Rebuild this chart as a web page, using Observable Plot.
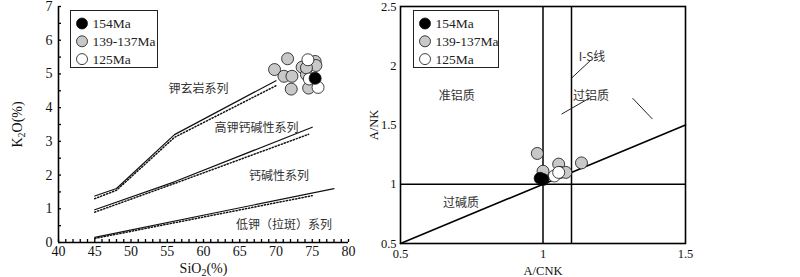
<!DOCTYPE html>
<html><head><meta charset="utf-8">
<script src="https://cdn.jsdelivr.net/npm/d3@7"></script>
<script src="https://cdn.jsdelivr.net/npm/@observablehq/plot@0.6"></script>
<style>
body{margin:0;background:#fff;}
#wrap{display:flex;width:800px;height:277px;overflow:hidden;}
.panel{position:relative;}
.legend{position:absolute;border:1px solid #222;background:#fff;}
</style></head>
<body><div id="wrap"><div class="panel" id="p1"></div><div class="panel" id="p2"></div></div>
<script>
// ---- groups / legend
const groups = ["154Ma", "139-137Ma", "125Ma"];
const groupFill = ["#000000", "#c8c8c8", "#ffffff"];
const drawOrder = ["139-137Ma", "125Ma", "154Ma"];

// ---- left panel: SiO2 vs K2O
const sio2Group = ["139-137Ma","139-137Ma","139-137Ma","139-137Ma","139-137Ma","139-137Ma","139-137Ma","139-137Ma","139-137Ma","139-137Ma","139-137Ma","125Ma","125Ma","125Ma","154Ma"];
const sio2 = [69.8, 71.6, 71.1, 72.2, 72.1, 73.6, 74.2, 75.4, 75.5, 74.5, 74.2, 74.4, 75.8, 74.6, 75.4];
const k2o  = [5.13, 5.45, 4.93, 4.93, 4.55, 5.20, 4.98, 5.37, 5.25, 4.58, 5.18, 5.42, 4.60, 4.85, 4.87];

const boundaryName = ["sho", "hkca", "ca"];
const solidX = [[45, 48, 56, 70], [45, 56, 75], [45, 78]];
const solidY = [[1.38, 1.60, 3.20, 4.80], [0.97, 1.80, 3.42], [0.15, 1.60]];
const dottedX = [[45, 48, 56, 70], [45, 56, 74.5], [45, 75]];
const dottedY = [[1.30, 1.55, 3.12, 4.65], [0.90, 1.75, 3.21], [0.12, 1.39]];

const seriesText = ["钾玄岩系列", "高钾钙碱性系列", "钙碱性系列", "低钾（拉斑）系列"];
const seriesX = [59.3, 67.3, 70.4, 71.1];
const seriesY = [4.55, 3.40, 1.98, 0.50];

const xTicksL = [40, 45, 50, 55, 60, 65, 70, 75, 80];
const yTicksL = [0, 1, 2, 3, 4, 5, 6, 7];

// ---- right panel: A/CNK vs A/NK
const acnkGroup = ["139-137Ma","139-137Ma","139-137Ma","139-137Ma","139-137Ma","139-137Ma","125Ma","125Ma","154Ma","154Ma"];
const acnk = [0.98, 1.00, 1.055, 1.06, 1.08, 1.135, 1.04, 1.055, 0.99, 1.00];
const ank  = [1.26, 1.11, 1.17, 1.10, 1.10, 1.18, 1.07, 1.10, 1.05, 1.04];

const vLines = [1.0, 1.1];
const hLines = [1.0];
const diagX = [0.5, 1.5];
const diagY = [0.5, 1.5];
const leaderX1 = [1.167, 1.163, 1.314];
const leaderY1 = [2.046, 1.727, 1.727];
const leaderX2 = [1.10, 1.065, 1.384];
const leaderY2 = [1.895, 1.592, 1.550];
const fieldText = ["I-S线", "过铝质", "准铝质", "过碱质"];
const fieldX = [1.172, 1.168, 0.697, 0.712];
const fieldY = [2.07, 1.74, 1.745, 0.84];
const fieldAnchor = ["start", "start", "middle", "middle"];

const xTicksR = [0.5, 1, 1.5];
const yTicksR = [0.5, 1, 1.5, 2, 2.5];

const fillOf = g => groupFill[groups.indexOf(g)];
const serif = "'Liberation Serif', 'Times New Roman', serif";
const cjk = "'Noto Sans CJK SC', sans-serif";

function toRows(xs, ys, gs) {
  const rows = xs.map((x, i) => ({x, y: ys[i], g: gs[i]}));
  return drawOrder.flatMap(g => rows.filter(r => r.g === g));
}
function linesRows(X, Y) {
  return X.flatMap((xs, k) => xs.map((x, i) => ({x, y: Y[k][i], id: boundaryName[k]})));
}

const leftPts = toRows(sio2, k2o, sio2Group);
const leftPlot = Plot.plot({
  width: 360, height: 277,
  marginLeft: 58, marginRight: 12, marginTop: 6, marginBottom: 35,
  x: {domain: [40, 80]}, y: {domain: [0, 7]},
  style: {fontFamily: serif, fontSize: "14px", color: "#000", background: "#fff"},
  marks: [
    Plot.axisY(yTicksL, {tickSize: 0, tickPadding: 6, fontSize: 14, fill: "#111", label: "K2O(%)", labelAnchor: "center", labelArrow: false, labelOffset: 46}),
    Plot.axisY(d3.range(0, 7.01, 0.5), {tickSize: -3, tickFormat: () => "", label: null, strokeWidth: 1.3}),
    Plot.axisX(xTicksL, {tickSize: 0, tickPadding: 4, fontSize: 14, fill: "#111", label: "SiO2(%)", labelAnchor: "center", labelArrow: false, labelOffset: 30}),
    Plot.axisX(d3.range(40, 80.01, 1), {tickSize: -3, tickFormat: () => "", label: null, strokeWidth: 1.3}),
    Plot.ruleX([40], {strokeWidth: 1.6}),
    Plot.ruleY([0], {strokeWidth: 1.6}),
    Plot.line(linesRows(solidX, solidY), {x: "x", y: "y", z: "id", stroke: "#111", strokeWidth: 1.2}),
    Plot.line(linesRows(dottedX, dottedY), {x: "x", y: "y", z: "id", stroke: "#111", strokeWidth: 1.5, strokeDasharray: "1.2,2"}),
    Plot.text(seriesText, {x: (d, i) => seriesX[i], y: (d, i) => seriesY[i], text: d => d, fontFamily: cjk, fontSize: 12, fill: "#333", style: "letter-spacing:2px"}),
    Plot.dot(leftPts, {x: "x", y: "y", r: 6, fill: d => fillOf(d.g), stroke: "#111", strokeWidth: 0.8})
  ]
});

const rightPt = toRows(acnk, ank, acnkGroup);
const rightPlot = Plot.plot({
  width: 340, height: 277,
  marginLeft: 40, marginRight: 15, marginTop: 6, marginBottom: 34,
  x: {domain: [0.5, 1.5]}, y: {domain: [0.5, 2.5]},
  style: {fontFamily: serif, fontSize: "13px", color: "#000", background: "#fff"},
  marks: [
    Plot.axisY(yTicksR, {tickSize: 0, tickPadding: 4, fontSize: 12.5, fill: "#111", tickFormat: d3.format("~g"), label: "A/NK", labelAnchor: "center", labelArrow: false, labelOffset: 31}),
    Plot.axisX(xTicksR, {tickSize: 0, tickPadding: 6, fontSize: 12.5, fill: "#111", tickFormat: d3.format("~g"), label: "A/CNK", labelAnchor: "center", labelArrow: false, labelOffset: 31}),
    Plot.ruleX(vLines, {strokeWidth: 1.5}),
    Plot.ruleY(hLines, {strokeWidth: 1.5}),
    Plot.line(diagX.map((x, i) => ({x, y: diagY[i]})), {x: "x", y: "y", strokeWidth: 1.6}),
    Plot.link(leaderX1, {x1: (d, i) => leaderX1[i], y1: (d, i) => leaderY1[i], x2: (d, i) => leaderX2[i], y2: (d, i) => leaderY2[i], stroke: "#222", strokeWidth: 1}),
    Plot.text(fieldText, {x: (d, i) => fieldX[i], y: (d, i) => fieldY[i], text: d => d, textAnchor: (d, i) => fieldAnchor[i], fontFamily: cjk, fontSize: 12, fill: "#333", style: "letter-spacing:1px"}),
    Plot.frame({strokeWidth: 1.6}),
    Plot.dot(rightPt, {x: "x", y: "y", r: 6, fill: d => fillOf(d.g), stroke: "#111", strokeWidth: 0.8})
  ]
});

// subscripts in axis labels
d3.select(leftPlot).select('g[aria-label="y-axis label"] text').html('K<tspan dy="3" font-size="10">2</tspan><tspan dy="-3">O(%)</tspan>');
d3.select(leftPlot).select('g[aria-label="x-axis label"] text').html('SiO<tspan dy="3" font-size="10">2</tspan><tspan dy="-3">(%)</tspan>');

document.getElementById("p1").appendChild(leftPlot);
document.getElementById("p2").appendChild(rightPlot);

function legend(panel, left, top, w, h) {
  const div = d3.select(panel).append("div").attr("class", "legend")
    .style("left", left + "px").style("top", top + "px").style("width", w + "px").style("height", h + "px");
  const svg = div.append("svg").attr("width", w).attr("height", h).style("display", "block");
  const g = svg.selectAll("g").data(groups).join("g").attr("transform", (d, i) => `translate(11,${12.5 + i * 17.8})`);
  g.append("circle").attr("r", 5.5).attr("fill", (d, i) => groupFill[i]).attr("stroke", "#111").attr("stroke-width", 0.8);
  g.append("text").attr("x", 10.5).attr("dy", "0.35em").text(d => d)
    .style("font-family", serif).style("font-size", "13.5px").attr("fill", "#222");
}
legend("#p1", 70, 10, 86, 56);
legend("#p2", 53, 10, 84, 56);
</script>
</body></html>
